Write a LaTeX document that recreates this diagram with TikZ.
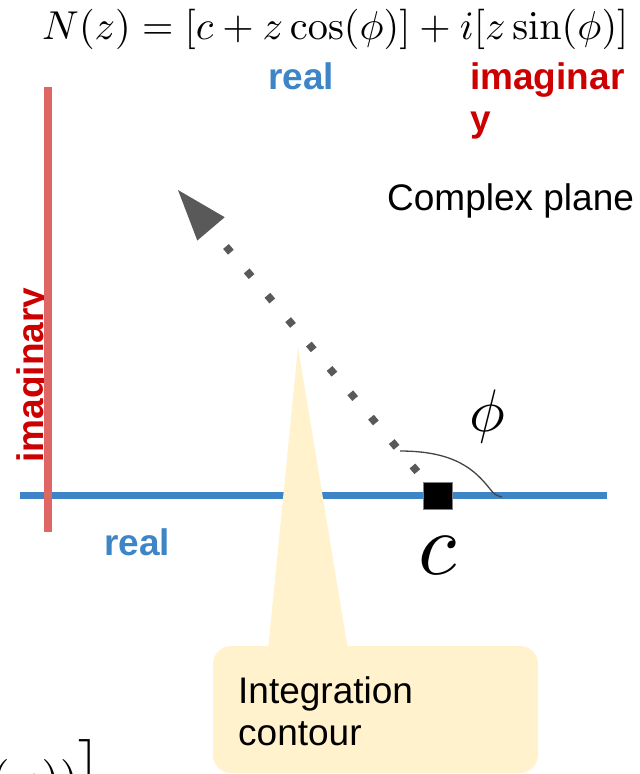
\documentclass[tikz,border=0pt]{standalone}
\usepackage[no-math]{fontspec}
\setmainfont{Liberation Sans}
\usepackage{graphicx}
\usetikzlibrary{arrows.meta}
\definecolor{axblue}{HTML}{3D85C6}
\definecolor{axred}{HTML}{E06666}
\definecolor{lblred}{HTML}{CC0000}
\definecolor{dotgrey}{HTML}{595959}
\definecolor{arcgrey}{HTML}{444444}
\definecolor{callout}{HTML}{FFF2CC}
\begin{document}
\begin{tikzpicture}[x=1pt,y=-1pt,
  txt/.style={inner sep=0pt, font=\fontsize{37}{42}\selectfont},
  btxt/.style={inner sep=0pt, font=\fontsize{37}{42}\selectfont\bfseries},
  axisline/.style={line width=#1},
  dotarrow/.style={dotgrey, line width=7.5pt, dash pattern=on 7.5pt off 24.5pt,
    -{Triangle[length=51pt,width=36pt,line width=0pt]}},
  anglearc/.style={arcgrey, line width=1.3pt},
  calloutbox/.style={fill=callout, rounded corners=18pt, inner sep=0pt}
]
\useasboundingbox (0,0) rectangle (640,774);
\clip (0,0) rectangle (640,774);

% formula at top
\node[inner sep=0pt, anchor=west] (formula) at (42,29)
  {\resizebox{586pt}{!}{$N(z) = [c + z\cos(\phi)] + i[z\sin(\phi)]$}};

% clipped formula fragment at bottom left
\node[inner sep=0pt, anchor=base west] (frag) at (-9,795)
  {\scalebox{4.8}{$(\varphi))\Big]$}};

% real axis
\coordinate (bL) at (20,495);
\coordinate (bR) at (607,495);
\draw[axblue, axisline=7pt] (bL) -- (bR);

% callout
\node[calloutbox, minimum width=325pt, minimum height=127pt] (cbox) at (375.5,709.5) {};
\coordinate (ctip) at (298,347);
\fill[callout] (ctip) -- ([xshift=-27.5pt,yshift=-4pt]cbox.north)
  -- ([xshift=-107.5pt,yshift=-4pt]cbox.north) -- cycle;
\node[txt, align=left, anchor=north west] (ctext) at (238,676.5) {Integration\\contour};

% point c
\node[draw=gray, fill=black, line width=1pt, minimum width=29pt, minimum height=27pt, inner sep=0pt] (cpt) at (438,496) {};
\node[inner sep=0pt] (clabel) at (438,556) {\scalebox{8.8}{$c$}};

% angle arc
\coordinate (arcA) at (400,451);
\coordinate (arcB) at (502,497);
\draw[anglearc] (arcA) .. controls (455,451) and (475,470) .. (490,489) .. controls (495,495) .. (arcB);
\node[inner sep=0pt] (philabel) at (487.5,416.5) {\scalebox{6}{$\phi$}};

% dotted arrow
\coordinate (dstart) at (417.3,471.7);
\coordinate (tip) at (178,190);
\draw[dotarrow] (dstart) -- (tip);

% labels
\node[btxt, text=axblue, anchor=base west] (realtop) at (268,89) {real};
\node[btxt, text=lblred, align=left, anchor=north west] (imtop) at (470,62.5) {imaginar\\y};
\node[txt, anchor=base west] (cplane) at (387,210) {Complex plane};
\node[btxt, text=axblue, anchor=base west] (realbot) at (104,555) {real};
\node[btxt, text=lblred, rotate=90] (imvert) at (34,375) {imaginary};

% imaginary axis
\coordinate (rT) at (47.5,87);
\coordinate (rB) at (47.5,532);
\draw[axred, axisline=8pt] (rT) -- (rB);
\end{tikzpicture}
\end{document}
